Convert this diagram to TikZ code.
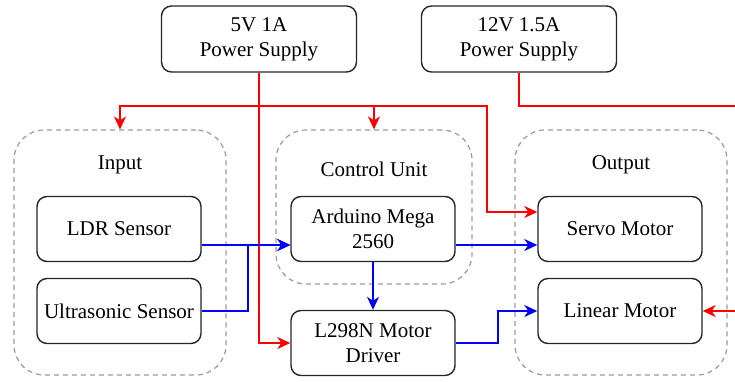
\documentclass[tikz,border=0pt]{standalone}
\usepackage{fontspec}
\setmainfont{Liberation Serif}
\usepackage{tikz}
\usetikzlibrary{arrows.meta}
\definecolor{pwrred}{HTML}{FF0000}
\definecolor{sigblue}{HTML}{0000FF}
\definecolor{grpgray}{HTML}{999999}

\tikzset{
  box/.style={draw=black!85, line width=0.7pt, rounded corners=5pt, fill=white, align=center,
    minimum width=82pt, minimum height=32.5pt, inner sep=1pt, font=\fontsize{10.5}{12.5}\selectfont},
  psbox/.style={box, minimum width=97.5pt, minimum height=33pt},
  grp/.style={draw=grpgray, dash pattern=on 2.5pt off 2pt, line width=0.6pt, rounded corners=15pt},
  grplabel/.style={font=\fontsize{10.5}{12.5}\selectfont},
  pwr/.style={color=pwrred, line width=0.8pt, -{Stealth[length=6.5pt, width=6pt, inset=2pt]}},
  sig/.style={color=sigblue, line width=0.8pt, -{Stealth[length=6.5pt, width=6pt, inset=2pt]}}
}

\begin{document}
\begin{tikzpicture}[x=0.5pt, y=-0.5pt]
  \useasboundingbox (0,0) rectangle (735,381);
  \clip (0,0) rectangle (735,381);

  % groups
  \node[grp, minimum width=106pt, minimum height=122.5pt] (input) at (120,252.5) {};
  \node[grp, minimum width=98pt, minimum height=77pt] (ctrl) at (374,207) {};
  \node[grp, minimum width=106pt, minimum height=122.5pt] (output) at (621,252.5) {};
  \node[grplabel] (inputlbl) at (120,165) {Input};
  \node[grplabel] (ctrllbl) at (374,169) {Control Unit};
  \node[grplabel] (outputlbl) at (621,165) {Output};

  % supplies
  \node[psbox] (ps5) at (259,39) {5V 1A\\Power Supply};
  \node[psbox] (ps12) at (519,39) {12V 1.5A\\Power Supply};

  % blocks
  \node[box] (ldr) at (119,229) {LDR Sensor};
  \node[box] (us) at (119,311) {Ultrasonic Sensor};
  \node[box] (ard) at (373,229) {Arduino Mega\\2560};
  \node[box] (drv) at (373,343) {L298N Motor\\Driver};
  \node[box] (servo) at (620,229) {Servo Motor};
  \node[box] (lin) at (620,311) {Linear Motor};

  % power lines
  \draw[pwr] (ps5.south) -- ++(0,33) -| (input.north);
  \draw[pwr] (ps5.south) -- ++(0,33) -| (ctrl.north);
  \draw[pwr] (ps5.south) -- ++(0,33) -- ++(228,0) |- ([yshift=8.5pt]servo.west);
  \draw[pwr] (ps5.south) |- (drv.west);
  \draw[pwr] (ps12.south) -- ++(0,33) -- ++(226,0) |- (lin.east);

  % signal lines
  \draw[sig] ([yshift=-8pt]ldr.east) -- ([yshift=-8pt]ard.west);
  \draw[sig] (us.east) -- ++(46,0) |- ([yshift=-8pt]ard.west);
  \draw[sig] (ard.south) -- (drv.north);
  \draw[sig] ([yshift=-8pt]ard.east) -- ([yshift=-8pt]servo.west);
  \draw[sig] (drv.east) -- ++(42,0) |- (lin.west);
\end{tikzpicture}
\end{document}
